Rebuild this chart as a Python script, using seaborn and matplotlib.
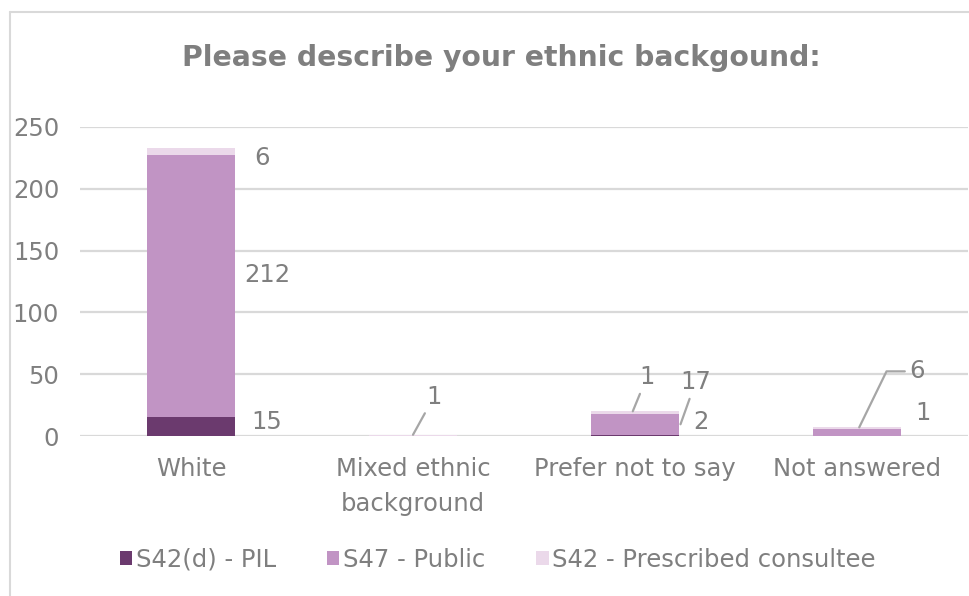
import matplotlib
matplotlib.use("Agg")
import matplotlib.pyplot as plt
from matplotlib.lines import Line2D
from matplotlib.patches import Patch
import seaborn as sns
import numpy as np
import pandas as pd

categories = ["White", "Mixed ethnic\nbackground", "Prefer not to say", "Not answered"]
pil = [15, 0, 1, 0]
public = [212, 0, 17, 6]
prescribed = [6, 1, 2, 1]
series_names = ["S42(d) - PIL", "S47 - Public", "S42 - Prescribed consultee"]
colors = ["#6B3A6E", "#C194C4", "#EBD9EA"]
yticks = [0, 50, 100, 150, 200, 250]

TEXT = "#7F7F7F"
GRID = "#D9D9D9"
FS = 17.5

sns.set_theme(style="white")
plt.rcParams["font.family"] = ["DejaVu Sans"]

df = pd.DataFrame({"category": categories, "pil": pil,
                   "public": public, "prescribed": prescribed})
df["c_pil"] = df["pil"]
df["c_public"] = df["pil"] + df["public"]
df["c_total"] = df["c_public"] + df["prescribed"]

fig = plt.figure(figsize=(9.70, 5.96), dpi=100)
ax = fig.add_axes([80 / 970, 1 - 436 / 596, 888 / 970, 309 / 596])

# stacked columns: draw cumulative totals back to front
for col, c in [("c_total", colors[2]), ("c_public", colors[1]), ("c_pil", colors[0])]:
    sns.barplot(data=df, x="category", y=col, color=c, width=0.4,
                saturation=1, ax=ax, zorder=3, linewidth=0)

ax.set_ylim(0, 250)
ax.set_xlim(-0.5, 3.5)
ax.set_yticks(yticks)
ax.yaxis.grid(True, color=GRID, linewidth=1.6, zorder=0)
ax.xaxis.grid(False)
for s in ax.spines.values():
    s.set_visible(False)
ax.set_xlabel("")
ax.set_ylabel("")
ax.tick_params(axis="both", length=0, colors=TEXT, labelsize=FS)
ax.tick_params(axis="y", pad=15)
ax.tick_params(axis="x", pad=15)
ax.set_xticks(range(len(categories)))
ax.set_xticklabels(categories, linespacing=1.6)

half = 0.2


def label(text, xy, off, leader=None, ha="center"):
    """Data label at a pixel offset from a point on a bar."""
    kw = {}
    if leader is not None:
        kw["arrowprops"] = dict(arrowstyle="-", color="#A6A6A6", lw=1.6,
                                shrinkA=1, shrinkB=0,
                                connectionstyle=leader)
    ax.annotate(text, xy=xy, xytext=off, textcoords="offset pixels",
                ha=ha, va="center", fontsize=FS, color=TEXT, zorder=5, **kw)


# White
x0 = 0
label(str(pil[0]), (x0 + half, pil[0] / 2), (31, 5))
label(str(public[0]), (x0 + half, pil[0] + public[0] / 2), (32, 11))
label(str(prescribed[0]), (x0 + half, df.c_total[0] - prescribed[0] / 2), (27, -6))

# Mixed ethnic background
label(str(prescribed[1]), (1, df.c_total[1]), (21, 38), leader="arc3")

# Prefer not to say
x2 = 2
label(str(pil[2]), (x2 - 0.01, df.c_total[2]), (14, 34), leader="arc3")
label(str(public[2]), (x2 + half + 0.005, pil[2] + public[2] / 2), (15, 42),
      leader="arc3")
label(str(prescribed[2]), (x2 + half, pil[2] + public[2] / 2), (22, 2))

# Not answered
x3 = 3
label(str(public[3]), (x3 + 0.01, df.c_total[3]), (58, 56),
      leader="angle,angleA=0,angleB=64,rad=0")
label(str(prescribed[3]), (x3 + half, df.c_total[3] - prescribed[3] / 2), (22, 15))

fig.text(501 / 970, 1 - 58 / 596, "Please describe your ethnic backgound:",
         ha="center", va="center", fontsize=20.3, fontweight="bold", color=TEXT)

handles = [Patch(facecolor=c, edgecolor="none") for c in colors]
fig.legend(handles, series_names, loc="center", bbox_to_anchor=(498 / 970, 1 - 560 / 596),
           ncol=3, frameon=False, fontsize=FS, labelcolor=TEXT,
           handlelength=0.5, handleheight=0.5, handletextpad=0.15, columnspacing=2.1)

# chart frame
fig.add_artist(Line2D([10 / 970, 10 / 970], [0, 1 - 12 / 596], transform=fig.transFigure,
                      color=GRID, lw=1.5))
fig.add_artist(Line2D([10 / 970, 1], [1 - 12 / 596, 1 - 12 / 596], transform=fig.transFigure,
                      color=GRID, lw=1.5))

fig.savefig("out.png", dpi=100, facecolor="white")
